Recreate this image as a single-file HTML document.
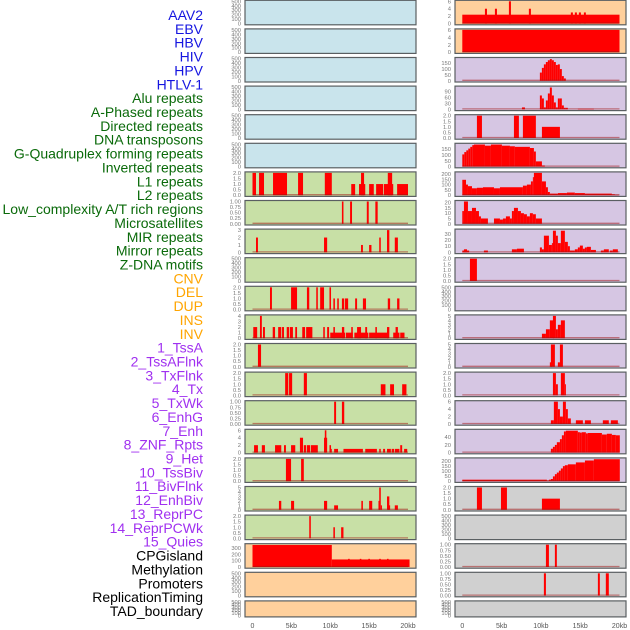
<!DOCTYPE html>
<html><head><meta charset="utf-8">
<style>
body{margin:0;background:#fff;width:630px;height:630px;overflow:hidden}
svg{display:block}
</style></head>
<body>
<svg id="chart" width="630" height="630" xmlns="http://www.w3.org/2000/svg"></svg>
<script>
const trackLabels=["AAV2","EBV","HBV","HIV","HPV","HTLV-1","Alu repeats","A-Phased repeats","Directed repeats","DNA transposons","G-Quadruplex forming repeats","Inverted repeats","L1 repeats","L2 repeats","Low_complexity A/T rich regions","Microsatellites","MIR repeats","Mirror repeats","Z-DNA motifs","CNV","DEL","DUP","INS","INV","1_TssA","2_TssAFlnk","3_TxFlnk","4_Tx","5_TxWk","6_EnhG","7_Enh","8_ZNF_Rpts","9_Het","10_TssBiv","11_BivFlnk","12_EnhBiv","13_ReprPC","14_ReprPCWk","15_Quies","CPGisland","Methylation","Promoters","ReplicationTiming","TAD_boundary"];
const labelColors=["#1515e0","#1515e0","#1515e0","#1515e0","#1515e0","#1515e0","#0a6a0a","#0a6a0a","#0a6a0a","#0a6a0a","#0a6a0a","#0a6a0a","#0a6a0a","#0a6a0a","#0a6a0a","#0a6a0a","#0a6a0a","#0a6a0a","#0a6a0a","#ffa500","#ffa500","#ffa500","#ffa500","#ffa500","#a030f0","#a030f0","#a030f0","#a030f0","#a030f0","#a030f0","#a030f0","#a030f0","#a030f0","#a030f0","#a030f0","#a030f0","#a030f0","#a030f0","#a030f0","#000","#000","#000","#000","#000"];
const xTicks=[0,5,10,15,20];
const xTickLabels=["0","5kb","10kb","15kb","20kb"];
const leftBg=["#c9e4ec","#c9e4ec","#c9e4ec","#c9e4ec","#c9e4ec","#c9e4ec","#c8e0a6","#c8e0a6","#c8e0a6","#c8e0a6","#c8e0a6","#c8e0a6","#c8e0a6","#c8e0a6","#c8e0a6","#c8e0a6","#c8e0a6","#c8e0a6","#c8e0a6","#ffd09c","#ffd09c","#ffd09c"];
const rightBg=["#ffd09c","#ffd09c","#d6c6e3","#d6c6e3","#d6c6e3","#d6c6e3","#d6c6e3","#d6c6e3","#d6c6e3","#d6c6e3","#d6c6e3","#d6c6e3","#d6c6e3","#d6c6e3","#d6c6e3","#d6c6e3","#d6c6e3","#d0d0d0","#d0d0d0","#d0d0d0","#d0d0d0","#d0d0d0"];
const leftMax=[500,500,500,500,500,500,2,1,3,500,2,4,2,2,1,6,2,5,2,355,500,500];
const rightMax=[6,6,190,112,2,192,210,21,36,2,500,5,5,2,6,58,222,2,500,1,1,500];
const ticksEmpty=[0,100,200,300,400,500];
const ticks2=[0,0.5,1,1.5,2];
const ticks1=[0,0.25,0.5,0.75,1];
const leftTicks=[ticksEmpty,ticksEmpty,ticksEmpty,ticksEmpty,ticksEmpty,ticksEmpty,ticks2,ticks1,[0,1,2,3],ticksEmpty,ticks2,[0,1,2,3,4],ticks2,ticks2,ticks1,[0,2,4,6],ticks2,[0,1,2,3,4,5],ticks2,[0,100,200,300],ticksEmpty,ticksEmpty];
const rightTicks=[[0,2,4,6],[0,2,4,6],[0,50,100,150],[0,30,60,90],ticks2,[0,50,100,150],[0,50,100,150,200],[0,5,10,15,20],[0,10,20,30],ticks2,ticksEmpty,[0,1,2,3,4,5],[0,1,2,3,4,5],ticks2,[0,2,4,6],[0,20,40],[0,50,100,150,200],ticks2,ticksEmpty,ticks1,ticks1,ticksEmpty];
// left series [startKb,endKb,value]
const L6=[[0,0.45,2],[0.84,1.48,2],[2.64,4.44,2],[5.86,6.5,2],[9.3,10.2,2],[12.7,13.2,1],[13.7,14.5,1],[13.96,14.35,2],[15.0,15.6,1],[15.9,16.8,1],[16.9,18.1,1],[17.4,17.96,2],[18.6,20,1]];
const L7=[[11.5,11.7,1],[12.55,12.8,1],[14.7,14.95,1],[15.8,16.1,1]];
const L8=[[0.45,0.7,2],[9.2,9.6,2],[13.96,14.2,1],[15,15.3,1],[16.3,16.5,2],[17.3,17.6,3],[18.3,18.7,2]];
const L10=[[2.25,2.5,2],[4.96,5.73,2],[7.0,7.3,2],[8.2,8.4,2],[8.7,9.2,2],[9.9,10.1,2],[10.4,10.6,1],[10.9,11.1,1],[11.5,11.8,1],[11.9,12.3,1],[13.2,13.45,1],[14.2,14.6,1],[17.4,17.7,1],[18.6,18.9,1]];
const L11=[[0.1,0.6,2],[0.96,1.2,4],[1.35,1.6,2],[2.6,2.9,2],[3.3,3.7,2],[3.8,4.05,2],[4.4,4.7,2],[4.8,5.2,2],[5.5,5.73,2],[6.4,6.76,2],[6.9,7.7,2],[9.1,9.3,2],[9.6,9.85,2],[10,11.9,1],[10.4,10.6,2],[11.5,11.8,2],[12,12.9,1],[12.7,12.9,2],[13.1,14.9,1],[13.45,13.96,2],[14.5,14.74,2],[15,17.45,1],[15.8,16,2],[17.3,17.6,2],[18.1,18.9,1],[18.4,18.7,2],[19,19.55,1]];
const L12=[[0.7,1.1,2]];
const L13=[[4.2,4.6,2],[4.7,5.1,2],[6.6,7.0,2],[16.5,17.1,1],[17.7,18.2,1],[19.25,19.8,1]];
const L14=[[10.5,10.75,1],[11.5,11.8,1]];
const L15=[[0.2,0.7,2],[1.2,1.6,2],[2.9,3.7,2],[4.05,4.3,2],[4.96,5.5,2],[6.1,6.5,4],[6.6,6.9,2],[7.0,7.4,2],[7.5,8.4,2],[9.2,9.6,4],[9.3,9.5,6],[9.9,10.1,2],[10.1,10.2,1],[10.5,11,1],[11.7,14.2,1],[14.5,16,1],[16.3,16.5,1],[16.8,17.05,1],[17.3,17.8,1],[17.9,18.2,1],[18.3,18.9,1],[19,19.25,2],[19.5,19.9,1]];
const L16=[[4.3,4.96,2],[6.25,6.6,2]];
const L17=[[3.4,3.7,2],[4.96,5.35,2],[9.2,9.6,2],[10.5,11,1],[14,14.2,2],[15,15.4,2],[16.2,16.4,2],[16.3,16.5,5],[16.5,16.65,1],[17.3,17.6,3],[17.45,17.7,1],[18.3,18.7,1]];
const L18=[[7.3,7.5,2],[10.4,10.6,1],[11.4,11.7,1]];
const L19=[[0,10.2,350],[10.2,20.2,120],[12.3,12.5,130],[13.8,14,130],[14.9,15.1,130],[16.3,16.5,130],[17.3,17.5,130]];
// right series
const R0=[[0,20,2.4],[2.88,3.14,4],[4.15,4.41,4],[5.93,6.19,6],[8.47,8.73,4],[13.81,14.07,3],[14.32,14.58,3],[14.83,15.09,3],[15.47,15.72,3]];
const R1=[[0,20,6]];
const R2vals=[70,110,140,160,175,185,175,160,135,140,100,40,20];
const R3vals=[70,55,10,45,80,110,70,35,10,55,55,20,8,8];
const R3=[[7.59,7.97,10],[14.7,16.74,3]];
const R4=[[1.86,2.5,2],[6.57,7.2,2],[7.71,9.36,2],[10.13,12.42,1]];
const R5vals=[105,125,140,155,170,185];
const R5=[[1.48,2.88,190],[2.88,3.64,180],[3.64,5.04,190],[5.04,6.06,180],[6.06,6.69,175],[6.69,8.6,170],[8.6,9.11,160],[9.11,9.36,130],[9.36,10.13,45],[10.13,10.5,10]];
const R6=[[0,0.47,145],[0.47,0.72,100],[0.72,1.23,85],[1.23,1.86,65],[1.86,2.63,70],[2.63,4.03,75],[4.03,4.79,65],[4.79,7.71,75],[7.71,8.22,90],[8.22,8.73,100],[8.73,8.98,130],[8.98,9.11,170],[9.11,10.13,210],[10.13,10.64,130],[10.64,10.89,75],[10.89,11.14,30],[11.14,12.16,15],[12.16,13.31,20],[13.31,14.32,25],[14.32,15.6,20],[15.6,19.03,15],[19.03,19.41,8],[19.41,19.92,3]];
const R7=[[0,0.21,12],[0.21,0.72,21],[0.72,1.23,12],[1.23,1.74,15],[1.74,2.12,12],[2.12,2.37,7],[2.37,3.26,5],[4.03,4.79,5],[4.79,5.17,4],[5.17,5.55,5],[5.55,6.06,7],[6.06,6.31,5],[6.31,6.57,12],[6.57,7.08,15],[7.08,7.46,12],[7.46,7.84,10],[7.84,8.22,9],[8.22,8.6,7],[8.6,8.98,10],[8.98,9.36,9],[9.36,10.13,5]];
const R8=[[0,0.87,3],[0.21,0.6,5],[2.75,3.26,3],[6.31,6.95,5],[6.95,7.84,6],[9.87,10.13,8],[10.13,10.38,5],[10.38,11.02,27],[11.02,11.4,12],[11.4,11.53,15],[11.53,11.91,35],[11.91,12.16,27],[12.16,12.54,15],[12.54,13.05,35],[13.05,13.43,17],[13.43,13.69,10],[13.69,14.32,3],[14.32,14.7,5],[14.7,14.96,8],[14.96,15.34,11],[15.34,15.6,6],[15.6,15.85,8],[15.85,16.36,9],[16.36,17,4],[17.63,18.01,3],[18.01,18.64,5],[18.77,19.15,3],[19.15,19.79,5]];
const R9=[[0.97,1.86,2]];
const R11=[[10.13,10.64,1],[10.64,11.14,2],[11.14,11.65,4],[11.53,11.91,5],[11.91,12.16,2],[12.16,12.54,3],[12.54,13.05,4]];
const R12=[[11.14,11.4,1],[11.27,11.78,5],[12.16,12.42,1],[12.42,12.8,5]];
const R13=[[11.53,11.91,2],[11.91,12.16,1],[12.54,13.05,2],[13.05,13.18,1]];
const R14=[[11.27,11.65,1],[11.65,12.16,6],[12.16,12.42,4],[12.42,12.8,2],[12.8,13.18,6],[13.18,13.43,4],[13.43,13.81,1.5],[14.45,15.34,1],[15.6,16.36,1],[17.88,18.64,1],[18.9,19.79,1]];
const R15=[[11.27,11.53,10],[11.53,11.78,15],[11.78,12.03,20],[12.03,12.42,27],[12.42,12.67,35],[12.67,12.93,45],[12.93,13.18,55],[13.18,14.7,57],[14.7,14.96,53],[14.96,15.21,52],[15.21,15.72,53],[15.72,15.98,50],[15.98,17.76,51],[17.76,18.39,47],[18.39,19.03,49],[19.03,19.53,46],[19.53,20.04,45]];
const R16=[[0,10.76,15],[10.76,11.02,5],[11.02,11.27,15],[11.27,11.53,22],[11.53,11.78,48],[11.78,12.03,70],[12.03,12.29,86],[12.29,12.54,105],[12.54,12.8,127],[12.8,13.05,150],[13.05,13.43,159],[13.43,14.45,168],[14.45,15.6,187],[15.6,16.74,206],[16.74,20.04,219]];
const R17=[[1.86,2.5,2],[4.92,5.68,2],[10.13,12.42,1]];
const R19=[[10.64,11.02,1],[11.78,12.03,1]];
const R20=[[10.38,10.64,1],[17.25,17.5,1],[18.26,18.64,1]];
const BIN=0.254;

function bins(start,vals){return vals.map((v,i)=>[start+i*BIN,start+(i+1)*BIN,v]);}
const leftSeries=[[],[],[],[],[],[],L6,L7,L8,[],L10,L11,L12,L13,L14,L15,L16,L17,L18,L19,[],[]];
const rightSeries=[R0,R1,bins(9.87,R2vals),R3.concat(bins(9.87,R3vals)),R4,bins(0,R5vals).concat(R5),R6,R7,R8,R9,[],R11,R12,R13,R14,R15,R16,R17,[],R19,R20,[]];

const NS="http://www.w3.org/2000/svg";
const svg=document.getElementById('chart');
function mk(tag,attrs,parent){const e=document.createElementNS(NS,tag);for(const k in attrs)e.setAttribute(k,attrs[k]);(parent||svg).appendChild(e);return e;}
const cols=[{x0:245,x1:416,k0:252.5,k1:408,bg:leftBg,mx:leftMax,tk:leftTicks,ser:leftSeries,side:'left'},
            {x0:455,x1:626,k0:462.3,k1:619.5,bg:rightBg,mx:rightMax,tk:rightTicks,ser:rightSeries,side:'right'}];
function fmt(t,ticks){const m=ticks[ticks.length-1];if(m===1)return t.toFixed(2);if(m===2)return t.toFixed(1);return String(t);}
cols.forEach(c=>{
  const xs=kb=>c.k0+(c.k1-c.k0)*kb/20;
  for(let i=0;i<22;i++){
    const top=0.3+28.6*i, h=(i===21?16:24.5);
    const g=mk('g',{});
    
    
    mk('rect',{x:c.x0,y:top,width:c.x1-c.x0,height:h,fill:c.bg[i],stroke:'#5a5f62','stroke-width':1.2},g);
    const y0=top+h-1.2, y1=top+1;
    const ys=v=>y0-(y0-y1)*Math.min(v,c.mx[i])/c.mx[i];
    c.tk[i].forEach(t=>{
      const tx=mk('text',{x:c.x0-4,y:ys(t)+2,'font-size':5.8,fill:'#777','text-anchor':'end','font-family':'Liberation Sans, sans-serif'},g);
      tx.textContent=fmt(t,c.tk[i]);
      
      
    });
    c.ser[i].forEach(s=>{
      const r=mk('rect',{x:xs(s[0]),y:ys(s[2]),width:Math.max(0.8,xs(s[1])-xs(s[0])),height:y0-ys(s[2]),fill:'#ff0000'},g);
      
      
    });
    if(c.mx[i]!==500){
      const b=mk('line',{x1:xs(0),x2:xs(20),y1:y0-0.5,y2:y0-0.5,stroke:'rgba(160,20,20,0.5)','stroke-width':1.3},g);
      
      
    }
  }
  xTicks.forEach((t,j)=>{
    const tx=mk('text',{x:xs(t),y:628,'font-size':7,fill:'#555','text-anchor':'middle','font-family':'Liberation Sans, sans-serif'});
    tx.textContent=xTickLabels[j];
    
    
  });
});
trackLabels.forEach((l,i)=>{
  const t=mk('text',{x:203,y:15+i*13.86+5,'font-size':14,fill:labelColors[i],'text-anchor':'end','font-family':'Liberation Sans, sans-serif'});
  t.textContent=l;
  
  
});
</script>
</body></html>
